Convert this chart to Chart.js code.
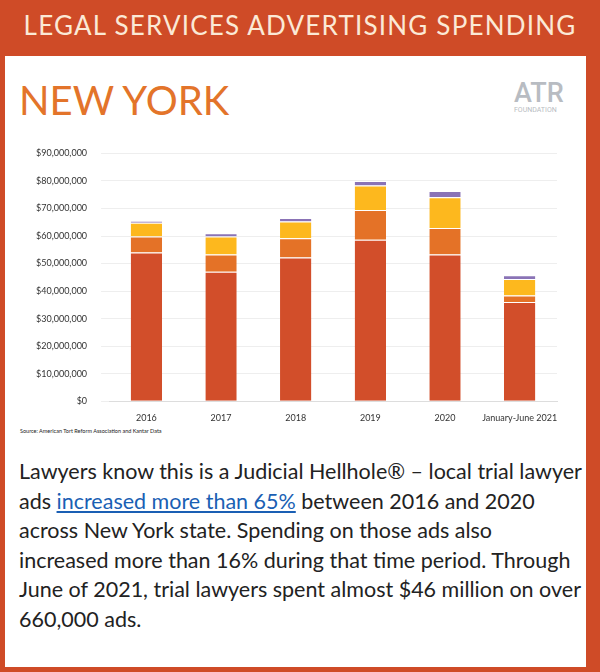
<!DOCTYPE html><html><head><meta charset="utf-8">
<script src="https://cdn.jsdelivr.net/npm/chart.js@4"></script>
<style>
body{margin:0;width:600px;height:672px;background:#CF4B27;font-family:Lato,sans-serif;position:relative;overflow:hidden}
#banner{position:absolute;left:0;top:0;width:600px;height:56px;color:#FBE9D6;font-size:26px;letter-spacing:1.2px;text-align:center;line-height:50px;font-family:Lato,sans-serif}
#panel{position:absolute;left:5px;top:56px;width:581px;height:611px;background:#fff}
#ny{position:absolute;left:19px;top:76px;color:#E3742A;font-size:40px;font-family:Lato,sans-serif}
#logo{position:absolute;left:500px;top:80px;color:#B8BCC2;font-family:Roboto,sans-serif}
#src{position:absolute;left:20px;top:428px;font-size:5.5px;color:#222}
#txt{position:absolute;left:19px;top:457px;width:565px;font-size:21.5px;line-height:29.5px;color:#222;font-family:Lato,sans-serif}
#txt a{color:#1a5fb4;text-decoration:underline}
#wrap{position:absolute;left:22px;top:134px;width:540px;height:292px}
</style></head><body>
<div id="banner">LEGAL SERVICES ADVERTISING SPENDING</div>
<div id="panel"></div>
<div id="ny">NEW YORK</div>
<div id="logo"><div style="font-size:27px;font-weight:500;line-height:26px;padding-left:14px">ATR</div><div style="font-size:7px;padding-left:14px">FOUNDATION</div></div>
<div id="wrap"><canvas id="c"></canvas></div>
<div id="src">Source: American Tort Reform Association and Kantar Data</div>
<div id="txt">Lawyers know this is a Judicial Hellhole® – local trial lawyer ads <a>increased more than 65%</a> between 2016 and 2020 across New York state. Spending on those ads also increased more than 16% during that time period. Through June of 2021, trial lawyers spent almost $46 million on over 660,000 ads.</div>
<script>
const categories=["2016","2017","2018","2019","2020","January-June 2021"];
const seriesA=[54.0,47.0,52.2,58.6,53.3,36.0];
const seriesB=[5.8,6.3,7.0,10.8,9.6,2.4];
const seriesC=[5.0,6.5,6.1,8.9,11.2,6.0];
const seriesD=[0.7,1.2,1.2,1.7,2.2,1.3];
const colors=["#D24E2A","#E47227","#FDB81E","#8A73B6"];
const ds=[seriesA,seriesB,seriesC,seriesD].map((s,i)=>({data:s.map(v=>v*1e6),backgroundColor:colors[i],borderColor:"#fff",borderWidth:{top:1},barPercentage:0.42,categoryPercentage:1}));
new Chart(document.getElementById('c'),{type:'bar',data:{labels:categories,datasets:ds},
options:{responsive:true,maintainAspectRatio:false,animation:false,
plugins:{legend:{display:false},tooltip:{enabled:false}},
layout:{padding:{right:5,top:4}},
scales:{x:{stacked:true,grid:{display:false},border:{color:"#ddd"},ticks:{maxRotation:0,minRotation:0,autoSkip:false,color:"#333",font:{size:9,family:"Lato"}}},
y:{stacked:true,min:0,max:90e6,ticks:{stepSize:10e6,color:"#333",font:{size:9,family:"Lato"},padding:14,callback:v=>"$"+v.toLocaleString("en-US")},grid:{color:"#eee"},border:{display:false}}}}});
</script></body></html>
